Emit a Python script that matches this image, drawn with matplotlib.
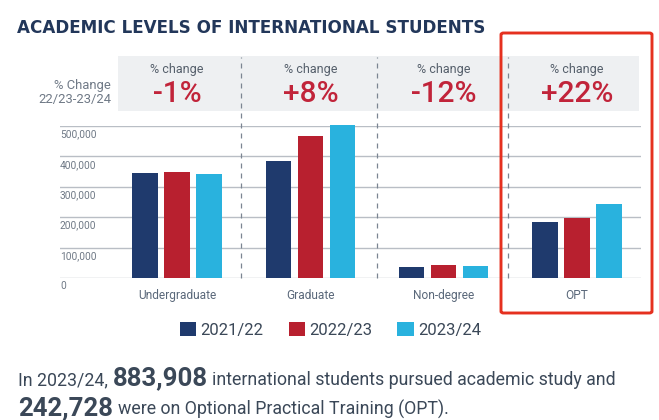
import matplotlib
matplotlib.use("Agg")
import matplotlib.pyplot as plt
import matplotlib.patches as mpatches
import numpy as np

# data
categories = ["Undergraduate", "Graduate", "Non-degree", "OPT"]
years = ["2021/22", "2022/23", "2023/24"]
vals_2122 = [344532, 385097, 36700, 184516]
vals_2223 = [347602, 467027, 43766, 198000]
vals_2324 = [342875, 502291, 38742, 242728]
pct_change = ["-1%", "+8%", "-12%", "+22%"]
yticks = [0, 100000, 200000, 300000, 400000, 500000]
ytick_labels = ["0", "100,000", "200,000", "300,000", "400,000", "500,000"]

colors = ["#1f3a6d", "#b8202f", "#29b2de"]
navy_title = "#22375a"
text_col = "#3b4858"
gray_txt = "#6f7986"
grid_col = "#b9bec5"
crimson = "#c1243a"

plt.rcParams["font.family"] = ["Roboto", "DejaVu Sans"]

W, H = 659, 420
fig = plt.figure(figsize=(W / 100, H / 100), dpi=100)

def fx(px):
    return px / W

def fy(py):
    return 1 - py / H

# axes: left 60px, right 641px, baseline 278px, 500k at 126px
ax = fig.add_axes([fx(60), fy(278), fx(641) - fx(60), fy(126) - fy(278)])
ax.set_ylim(0, 500000)
ax.set_xlim(-0.8775, 3.48)

x = np.arange(len(categories))
bw = 0.19
off = 0.24
for i, (series, c) in enumerate(zip([vals_2122, vals_2223, vals_2324], colors)):
    ax.bar(x + (i - 1) * off, series, width=bw, color=c, label=years[i],
           zorder=3, clip_on=False)

for s in ax.spines.values():
    s.set_visible(False)
ax.set_yticks(yticks)
ax.set_yticklabels([])
ax.tick_params(axis="y", length=0)
ax.yaxis.grid(True, color=grid_col, lw=1.0, zorder=0)
ax.set_axisbelow(True)
for v, lab in zip(yticks, ytick_labels):
    ax.annotate(lab, (0, v), xycoords=("axes fraction", "data"),
                xytext=(0, -2.5), textcoords="offset points",
                ha="left", va="top", fontsize=7.3, color=gray_txt)

ax.set_xticks(x)
ax.set_xticklabels(categories, fontsize=8.6, color="#5a687a")
ax.tick_params(axis="x", length=0, pad=8)

# header panel with % change
panel = mpatches.Rectangle((-0.4425, 549000), 3.465 + 0.4425, 730000 - 549000,
                           facecolor="#eef0f2", edgecolor="none",
                           clip_on=False, zorder=1)
ax.add_patch(panel)
ax.vlines([0.48, 1.5, 2.48], 0, 727000, colors="#7b8592", lw=0.9,
          linestyles=(0, (4, 4)), clip_on=False, zorder=4)

for xi, p in zip(x, pct_change):
    ax.text(xi, 687500, "% change", ha="center", va="center",
            fontsize=9, color="#555f6b", zorder=5)
    ax.text(xi, 604000, p, ha="center", va="center", fontsize=21.5,
            fontweight="medium", color=crimson, zorder=5)

ax.text(-0.495, 610000, "% Change\n22/23-23/24", ha="right", va="center",
        multialignment="right", fontsize=9.4, color=gray_txt,
        linespacing=1.15, zorder=5)

# title
fig.text(fx(17), fy(33), "ACADEMIC LEVELS OF INTERNATIONAL STUDENTS",
         ha="left", va="baseline", fontsize=12.1, fontweight="bold",
         color=navy_title, family="DejaVu Sans")

# red highlight box
box = mpatches.FancyBboxPatch((fx(501), fy(313)), fx(652) - fx(501),
                              fy(33) - fy(313),
                              boxstyle="round,pad=0,rounding_size=0.004",
                              transform=fig.transFigure, facecolor="none",
                              edgecolor="#e5301f", lw=2.1, zorder=10)
fig.patches.append(box)

# legend
handles, labels = ax.get_legend_handles_labels()
fig.legend(handles, labels, loc="center", bbox_to_anchor=(fx(330.5), fy(330)),
           ncol=3, frameon=False, fontsize=12, handlelength=1.0,
           handleheight=0.85, handletextpad=0.25, columnspacing=1.5,
           labelcolor=text_col, borderpad=0)

# bottom text, mixed weights
renderer = fig.canvas.get_renderer()

def write_line(parts, x0, ybase):
    xpos = x0
    for s, bold in parts:
        t = fig.text(xpos, ybase, s, ha="left", va="baseline",
                     fontsize=18.5 if bold else 12.8,
                     fontweight="bold" if bold else "normal",
                     color=text_col)
        bb = t.get_window_extent(renderer)
        xpos = bb.x1 / W + 4.5 / W

write_line([("In 2023/24,", False), ("883,908", True),
            ("international students pursued academic study and", False)],
           fx(18), fy(385))
write_line([("242,728", True),
            ("were on Optional Practical Training (OPT).", False)],
           fx(18), fy(415))

fig.savefig("out.png", dpi=100)
